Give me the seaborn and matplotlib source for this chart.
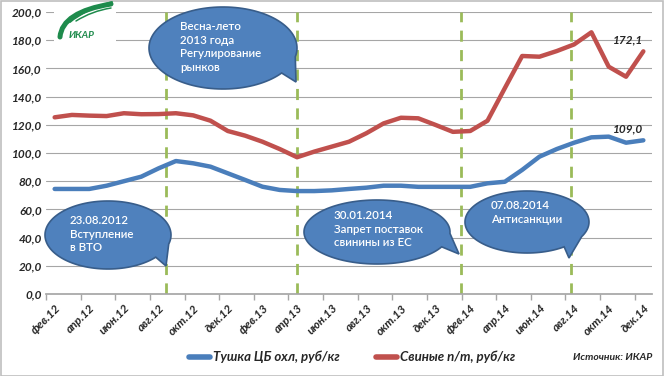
import numpy as np
import pandas as pd
import matplotlib
matplotlib.use("Agg")
import matplotlib.pyplot as plt
import seaborn as sns
from matplotlib.patches import Polygon, Rectangle, PathPatch
from matplotlib.path import Path
from matplotlib.lines import Line2D

# ---- data ----
months_ru = ["фев", "мар", "апр", "май", "июн", "июл", "авг", "сен", "окт", "ноя", "дек", "янв"]
years = [12] * 11 + [13] * 12 + [14] * 12
month_labels = [f"{months_ru[i % 12]}.{y}" for i, y in enumerate(years)]

tushka = [74.5, 74.5, 74.5, 76.8, 80.0, 83.2, 89.1, 94.3, 92.7, 90.3, 85.6, 80.9,
          76.1, 73.8, 73.0, 73.0, 73.5, 74.5, 75.4, 76.8, 76.8, 76.0, 76.0, 76.0,
          76.0, 78.5, 79.6, 88.0, 97.4, 102.8, 107.3, 111.1, 111.6, 107.3, 109.0]
svinye = [125.3, 127.0, 126.5, 126.2, 128.2, 127.5, 127.6, 128.2, 126.7, 122.9, 115.6, 112.3,
          108.0, 102.8, 97.0, 101.0, 104.5, 108.0, 114.0, 121.0, 125.0, 124.6, 119.9, 115.0,
          115.6, 122.9, 146.0, 168.8, 168.3, 172.3, 177.0, 185.6, 161.2, 154.1, 172.1]
series_names = ["Тушка ЦБ охл, руб/кг", "Свиные п/т, руб/кг"]
event_x = [6.45, 14.0, 23.45, 29.85]
callout_texts = ["Весна-лето\n2013 года\nРегулирование\nрынков",
                 "23.08.2012\nВступление\nв ВТО",
                 "30.01.2014\nЗапрет поставок\nсвинины из ЕС",
                 "07.08.2014\nАнтисанкции"]

idx = np.arange(len(month_labels))
df = pd.DataFrame({
    "i": np.concatenate([idx, idx]),
    "val": tushka + svinye,
    "series": [series_names[0]] * len(idx) + [series_names[1]] * len(idx),
})

sns.set_theme(style="white")
plt.rcParams["font.family"] = ["Lato", "DejaVu Sans"]

W, H = 664, 376
fig = plt.figure(figsize=(W / 100, H / 100), dpi=100)
ax = fig.add_axes([46 / W, 1 - 294 / H, (652 - 46) / W, (294 - 12) / H])

blue = "#4A7EBB"
red = "#C0504D"
sns.lineplot(data=df, x="i", y="val", hue="series", palette=[blue, red],
             linewidth=3.2, ax=ax, legend=False, solid_capstyle="round")

ax.set_xlim(-0.5, len(idx) - 0.5)
ax.set_ylim(0, 200)
ax.set_yticks(np.arange(0, 201, 20))
ax.set_yticklabels([f"{v:.1f}".replace(".", ",") for v in np.arange(0, 201, 20)],
                   fontsize=8.5, fontweight="bold", style="italic")
ax.grid(axis="y", color="#A6A6A6", linewidth=0.8)
ax.set_axisbelow(True)
for s in ["top", "right", "left"]:
    ax.spines[s].set_visible(False)
ax.spines["bottom"].set_color("#A6A6A6")
ax.set_xticks(idx[::2])
ax.set_xticklabels(month_labels[::2], rotation=45, ha="right", rotation_mode="anchor",
                   fontsize=8.5, fontweight="bold", style="italic")
ax.set_xticks(np.arange(-0.5, len(idx), 2), minor=True)
ax.tick_params(axis="x", which="major", length=0, pad=6)
ax.tick_params(axis="x", which="minor", length=4, color="#A6A6A6", bottom=True)
ax.tick_params(axis="y", length=0, pad=3)
ax.set_xlabel("")
ax.set_ylabel("")

for xv in event_x:
    ax.axvline(xv, color="#9BBB59", linestyle=(0, (4, 3)), linewidth=2.0, zorder=1)

ax.text(len(idx) - 1, svinye[-1] + 4, f"{svinye[-1]:.1f}".replace(".", ","),
        ha="right", va="bottom", fontsize=8.5, fontweight="bold", style="italic")
ax.text(len(idx) - 1, tushka[-1] + 4, f"{tushka[-1]:.1f}".replace(".", ","),
        ha="right", va="bottom", fontsize=8.5, fontweight="bold", style="italic")

# ---- callouts (pixel geometry) ----
def fc(x, y):
    return (x / W, 1 - y / H)

def callout(cx, cy, w, h, tip, text, tx, ty):
    a = w / 2.0
    b = h / 2.0
    ang = np.arctan2(tip[1] - cy, tip[0] - cx)
    d = 0.22
    ts = np.linspace(ang + d, ang + 2 * np.pi - d, 120)
    pts = [(cx + a * np.cos(t), cy + b * np.sin(t)) for t in ts]
    pts.append(tip)
    pts = [fc(x, y) for x, y in pts]
    poly = Polygon(pts, closed=True, transform=fig.transFigure, facecolor="#4F81BD",
                   edgecolor="#385D8A", linewidth=1.2, zorder=5)
    fig.patches.append(poly)
    fig.text(*fc(tx, ty), text, color="white", fontsize=8.3, fontweight="semibold",
             ha="left", va="top", linespacing=1.3, zorder=6)

callout(223, 48, 148, 82, (296, 82), callout_texts[0], 180, 21)
callout(108, 235, 126, 68, (166, 266), callout_texts[1], 70, 215)
callout(377, 232, 146, 64, (459, 254), callout_texts[2], 334, 210)
callout(527, 222, 124, 62, (569, 258), callout_texts[3], 491, 200)

# ---- logo ----
green = "#1E8B4C"
fig.patches.append(Rectangle(fc(54, 42), 62 / W, 40 / H, transform=fig.transFigure,
                             facecolor="white", edgecolor="none", zorder=3))
for p0, p1, p2, lw in [((60, 37), (62, 12), (111, 4), 3.6),
                       ((70, 22), (84, 10), (112, 2), 1.4),
                       ((76, 21), (92, 11), (111, 8), 1.1)]:
    verts = [fc(*p0), fc(*p1), fc(*p2)]
    path = Path(verts, [Path.MOVETO, Path.CURVE3, Path.CURVE3])
    fig.patches.append(PathPatch(path, transform=fig.transFigure, facecolor="none",
                                 edgecolor=green, linewidth=lw, capstyle="round", zorder=4))
fig.text(*fc(69, 35), "ИКАР", color=green, fontsize=7.2, fontweight="bold",
         style="italic", ha="left", va="center", zorder=4)

# ---- legend ----
handles = [Line2D([0], [0], color=blue, linewidth=4), Line2D([0], [0], color=red, linewidth=4)]
leg = fig.legend(handles, series_names, loc="center", bbox_to_anchor=(352 / W, 1 - 357 / H),
                 ncol=2, frameon=False, handlelength=1.6, handletextpad=0.2, columnspacing=2.8,
                 prop={"size": 9.5, "weight": "bold", "style": "italic"})
fig.text(*fc(652, 358), "Источник: ИКАР", ha="right", va="center", fontsize=7.5,
         fontweight="bold", style="italic")

fig.patches.append(Rectangle((0.5 / W, 0.5 / H), 1 - 1.5 / W, 1 - 1.5 / H, transform=fig.transFigure,
                             facecolor="none", edgecolor="#BFBFBF", linewidth=1.2))

fig.savefig("out.png", dpi=100)
